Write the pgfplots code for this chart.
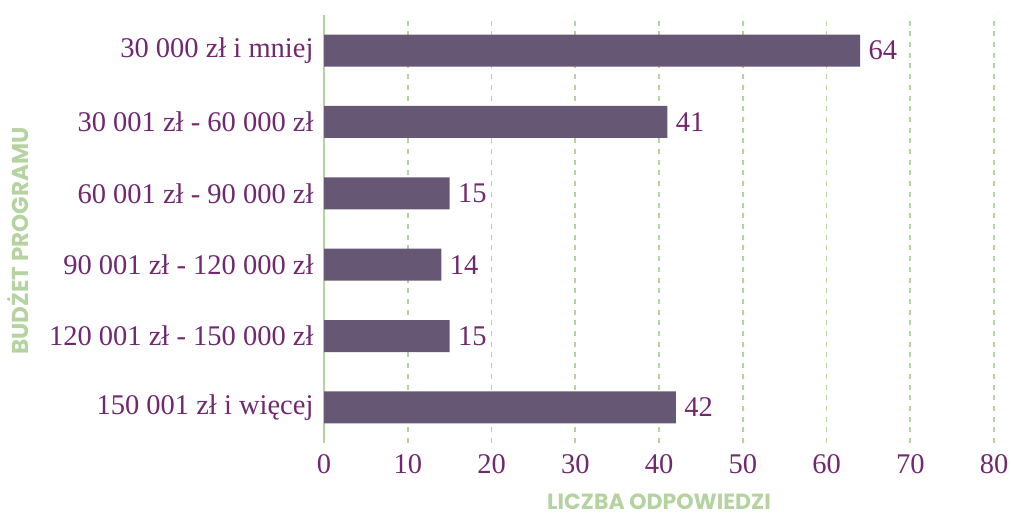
\documentclass[border=0pt]{standalone}
\usepackage{fontspec}
\setmainfont{Liberation Serif}
\newfontfamily\labfont{Poppins}
\usepackage{pgfplots}
\pgfplotsset{compat=1.18}
\definecolor{barc}{RGB}{102,87,117}
\definecolor{txtc}{RGB}{112,40,110}
\definecolor{grn}{RGB}{181,211,160}
\begin{document}
\begin{tikzpicture}
\useasboundingbox (0,0) rectangle (1011pt,517pt);
\begin{axis}[
  at={(324pt,74pt)}, anchor=south west,
  scale only axis, width=670pt, height=428pt,
  xbar, bar width=32pt,
  xmin=0, xmax=80, ymin=-0.5, ymax=5.5,
  xtick={0,10,...,80},
  ytick={0,1,2,3,4,5},
  yticklabels={150 001 zł i więcej,120 001 zł - 150 000 zł,90 001 zł - 120 000 zł,60 001 zł - 90 000 zł,30 001 zł - 60 000 zł,30 000 zł i mniej},
  major tick length=0pt,
  /pgf/number format/assume math mode=true,
  ticklabel style={font=\fontsize{28.5}{30}\selectfont, text=txtc},
  xticklabel style={yshift=-8pt},
  yticklabel style={xshift=-7pt},
  axis y line*=left, axis x line*=bottom,
  x axis line style={draw=none},
  y axis line style={draw=grn, line width=1.8pt},
  xmajorgrids,
  major grid style={draw=grn, line width=1.6pt, dash pattern=on 5pt off 5.7pt},
  nodes near coords,
  nodes near coords style={font=\fontsize{28.5}{30}\selectfont, text=txtc, anchor=west, xshift=5pt},
  xlabel={LICZBA ODPOWIEDZI},
  ylabel={BUDŻET PROGRAMU},
  xlabel style={font=\labfont\bfseries\fontsize{22}{23}\selectfont, text=grn, at={(axis description cs:0.5,-0.137)}, anchor=center, inner sep=0pt},
  ylabel style={font=\labfont\bfseries\fontsize{23}{24}\selectfont, text=grn, at={(axis description cs:-0.457,0.472)}, anchor=center, inner sep=0pt},
]
\addplot[fill=barc, draw=none] coordinates {(42,0) (15,1) (14,2) (15,3) (41,4) (64,5)};
\end{axis}
\end{tikzpicture}
\end{document}
